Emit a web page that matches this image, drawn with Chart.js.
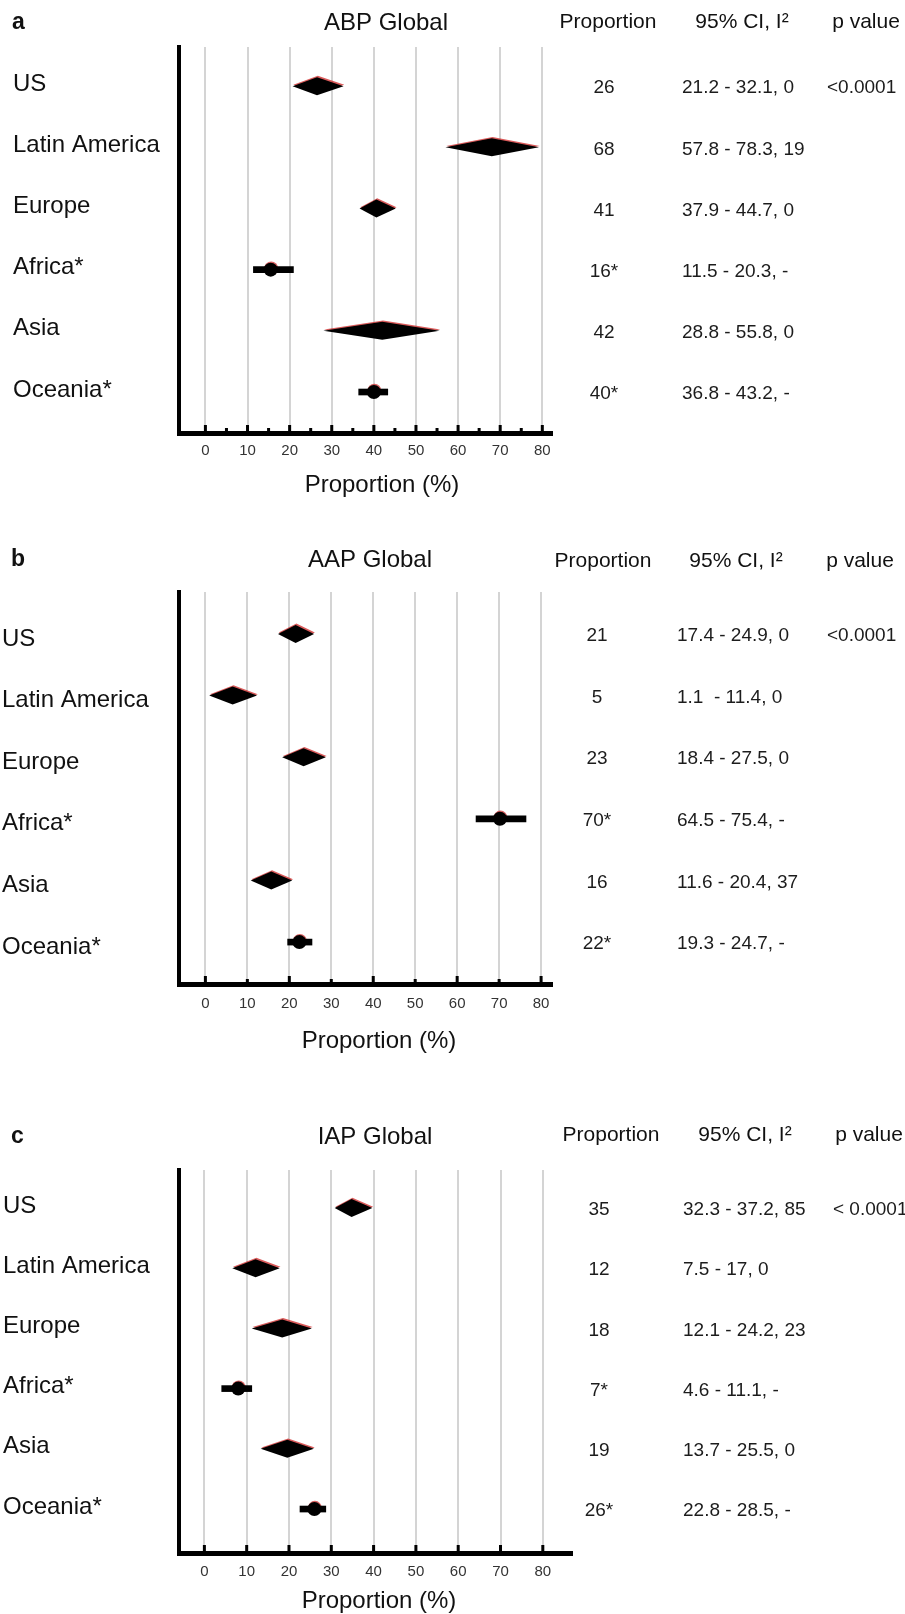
<!DOCTYPE html>
<html>
<head>
<meta charset="utf-8">
<script src="https://cdn.jsdelivr.net/npm/chart.js@4.4.1/dist/chart.umd.min.js"></script>
<style>
  html, body { margin: 0; padding: 0; background: #fff; }
  body { width: 905px; height: 1614px; position: relative; overflow: hidden; }
  canvas { position: absolute; left: 0; display: block; }
</style>
</head>
<body>
<canvas id="chartA" width="905" height="520" style="top:0"></canvas>
<canvas id="chartB" width="905" height="540" style="top:530px"></canvas>
<canvas id="chartC" width="905" height="524" style="top:1090px"></canvas>
<script>
// same rows in the three panels
const regions = ['US', 'Latin America', 'Europe', 'Africa*', 'Asia', 'Oceania*'];
const singleStudy = [false, false, false, true, false, true];   // * = one study -> dot + bar
const xTicks = [0, 10, 20, 30, 40, 50, 60, 70, 80];
const tableHeader = ['Proportion', '95% CI, I²', 'p value'];
const axisTitle = 'Proportion (%)';

// a - ABP
const abpEst  = [26.5, 68, 40.6, 15.5, 42, 40];
const abpLow  = [20.7, 57, 36.6, 11.4, 28, 36.4];
const abpHigh = [32.8, 79.2, 45.2, 20.9, 55.6, 43.3];
const abpProp = ['26', '68', '41', '16*', '42', '40*'];
const abpCI   = ['21.2 - 32.1, 0', '57.8 - 78.3, 19', '37.9 - 44.7, 0', '11.5 - 20.3, -', '28.8 - 55.8, 0', '36.8 - 43.2, -'];
const abpP    = '<0.0001';

// b - AAP
const aapEst  = [21.5, 6.5, 23.4, 70.2, 15.7, 22.4];
const aapLow  = [17.3, 0.9, 18.3, 64.5, 10.8, 19.6];
const aapHigh = [25.9, 12.3, 28.7, 76.4, 20.7, 25.4];
const aapProp = ['21', '5', '23', '70*', '16', '22*'];
const aapCI   = ['17.4 - 24.9, 0', '1.1  - 11.4, 0', '18.4 - 27.5, 0', '64.5 - 75.4, -', '11.6 - 20.4, 37', '19.3 - 24.7, -'];
const aapP    = '<0.0001';

// c - IAP
const iapEst  = [34.8, 12.1, 18.4, 8, 19.6, 26];
const iapLow  = [30.8, 6.6, 11.2, 4.1, 13.3, 22.6];
const iapHigh = [39.7, 17.8, 25.4, 11.2, 25.9, 28.7];
const iapProp = ['35', '12', '18', '7*', '19', '26*'];
const iapCI   = ['32.3 - 37.2, 85', '7.5 - 17, 0', '12.1 - 24.2, 23', '4.6 - 11.1, -', '13.7 - 25.5, 0', '22.8 - 28.5, -'];
const iapP    = '< 0.0001';

const fam = "'Liberation Sans', Arial, sans-serif";
Chart.defaults.font.family = fam;
Chart.defaults.color = '#151515';

function forestPlugin(p) {
  return {
    id: 'forest',
    beforeDatasetsDraw(chart) {
      const ctx = chart.ctx, xs = chart.scales.x, ys = chart.scales.y;
      const bottom = chart.chartArea.bottom;
      ctx.save();
      // small tick marks sitting on the x axis line
      ctx.fillStyle = '#000';
      xTicks.forEach((v, k) => {
        const h = (p.halfTicks && k % 2 == 1) ? 5 : 8;
        ctx.fillRect(xs.getPixelForValue(v) - 1.5, bottom - h, 3, h);
      });
      if (p.minor) {
        xTicks.slice(0, -1).forEach(v => {
          ctx.fillRect(xs.getPixelForValue(v + 5) - 1.5, bottom - 5, 3, 5);
        });
      }
      // reddish shadow behind the dots
      ctx.fillStyle = 'rgba(200,30,30,0.7)';
      regions.forEach((r, i) => {
        if (!singleStudy[i]) return;
        ctx.beginPath();
        ctx.arc(xs.getPixelForValue(p.est[i]) + 0.5, ys.getPixelForValue(i) - 1.2, 7, 0, Math.PI * 2);
        ctx.fill();
      });
      ctx.restore();
    },
    afterDatasetsDraw(chart) {
      const ctx = chart.ctx, xs = chart.scales.x, ys = chart.scales.y;
      ctx.save();
      regions.forEach((r, i) => {
        if (singleStudy[i]) return;
        const xl = xs.getPixelForValue(p.low[i]);
        const xc = xs.getPixelForValue(p.est[i]);
        const xr = xs.getPixelForValue(p.high[i]);
        const yc = ys.getPixelForValue(i);
        const h = 9;
        [['rgba(205,35,35,0.75)', 0.8, -1.3], ['#000', 0, 0]].forEach(([col, dx, dy]) => {
          ctx.fillStyle = col;
          ctx.beginPath();
          ctx.moveTo(xl + dx, yc + dy);
          ctx.lineTo(xc + dx, yc - h + dy);
          ctx.lineTo(xr + dx, yc + dy);
          ctx.lineTo(xc + dx, yc + h + dy);
          ctx.closePath();
          ctx.fill();
        });
      });
      ctx.restore();
    },
    afterDraw(chart) {
      const ctx = chart.ctx, ys = chart.scales.y;
      ctx.save();
      ctx.textBaseline = 'middle';
      ctx.fillStyle = '#111';
      ctx.textAlign = 'left';
      ctx.font = 'bold 23px ' + fam;
      ctx.fillText(p.letter, p.letterX, p.titleY);
      ctx.textAlign = 'center';
      ctx.font = '24px ' + fam;
      ctx.fillText(p.title, p.titleX, p.titleY);
      ctx.font = '21px ' + fam;
      tableHeader.forEach((h, k) => ctx.fillText(h, p.headX[k], p.headY));
      ctx.font = '19px ' + fam;
      ctx.fillStyle = '#1c1c1c';
      regions.forEach((r, i) => {
        const y = ys.getPixelForValue(i) + 2;
        ctx.textAlign = 'center';
        ctx.fillText(p.prop[i], p.propX, y);
        ctx.textAlign = 'left';
        ctx.fillText(p.ci[i], p.ciX, y);
      });
      ctx.textAlign = 'left';
      ctx.fillText(p.p, p.pX, ys.getPixelForValue(0) + 2);
      ctx.textAlign = 'center';
      ctx.fillStyle = '#111';
      ctx.font = '24px ' + fam;
      ctx.fillText(axisTitle, p.axisTitleX, p.axisTitleY);
      ctx.restore();
    }
  };
}

function buildPanel(p) {
  const rows = regions.map((r, i) => i);
  const barData = [];
  const dotData = [];
  rows.forEach(i => {
    if (singleStudy[i]) {
      barData.push({ x: [p.low[i], p.high[i]], y: i });
      dotData.push({ x: p.est[i], y: i });
    }
  });
  return new Chart(document.getElementById(p.canvas), {
    type: 'scatter',
    data: {
      datasets: [
        { type: 'bar', indexAxis: 'y', data: barData, backgroundColor: '#000', barThickness: 6, borderWidth: 0 },
        { type: 'scatter', data: dotData, pointRadius: 7, pointBackgroundColor: '#000', pointBorderWidth: 0 }
      ]
    },
    options: {
      responsive: false,
      animation: false,
      events: [],
      layout: { padding: p.pad },
      plugins: { legend: { display: false }, tooltip: { enabled: false } },
      scales: {
        x: {
          type: 'linear', min: p.xMin, max: p.xMax, offset: false,
          afterBuildTicks: ax => { ax.ticks = xTicks.map(v => ({ value: v })); },
          afterFit: ax => { ax.height = 40; },
          ticks: { font: { size: 15 }, color: '#333', padding: p.tickPad, maxRotation: 0, autoSkip: false, callback: v => v },
          grid: { color: '#d4d4d4', lineWidth: 2, drawTicks: false, offset: false },
          border: { color: '#000', width: 5 }
        },
        y: {
          type: 'linear', reverse: true, min: p.yMin, max: p.yMax, offset: false,
          afterBuildTicks: ax => { ax.ticks = rows.map(v => ({ value: v })); },
          afterFit: ax => { ax.width = p.yAxisWidth; },
          ticks: { font: { size: 24 }, color: '#111', crossAlign: 'far', labelOffset: p.labelOffset, autoSkip: false, callback: v => regions[v] },
          grid: { drawOnChartArea: false, drawTicks: false, offset: false },
          border: { color: '#000', width: 4 }
        }
      }
    },
    plugins: [forestPlugin(p)]
  });
}

buildPanel({
  canvas: 'chartA', letter: 'a', title: 'ABP Global',
  est: abpEst, low: abpLow, high: abpHigh, prop: abpProp, ci: abpCI, p: abpP,
  pad: { top: 47, right: 353, bottom: 47, left: 13 }, yAxisWidth: 166,
  xMin: -6.27, xMax: 82.3, yMin: -0.64, yMax: 5.67,
  labelOffset: -2, tickPad: 9, minor: true, halfTicks: false,
  letterX: 12, titleX: 386, titleY: 23, headY: 22, headX: [608, 742, 866],
  propX: 604, ciX: 682, pX: 827, axisTitleX: 382, axisTitleY: 485
});

buildPanel({
  canvas: 'chartB', letter: 'b', title: 'AAP Global',
  est: aapEst, low: aapLow, high: aapHigh, prop: aapProp, ci: aapCI, p: aapP,
  pad: { top: 62, right: 353, bottom: 46, left: 2 }, yAxisWidth: 177,
  xMin: -6.29, xMax: 82.6, yMin: -0.68, yMax: 5.68,
  labelOffset: 5, tickPad: 11, minor: false, halfTicks: true,
  letterX: 11, titleX: 370, titleY: 30, headY: 31, headX: [603, 736, 860],
  propX: 597, ciX: 677, pX: 827, axisTitleX: 379, axisTitleY: 511
});

buildPanel({
  canvas: 'chartC', letter: 'c', title: 'IAP Global',
  est: iapEst, low: iapLow, high: iapHigh, prop: iapProp, ci: iapCI, p: iapP,
  pad: { top: 80, right: 333, bottom: 21, left: 3 }, yAxisWidth: 176,
  xMin: -6.0, xMax: 86.9, yMin: -0.63, yMax: 5.73,
  labelOffset: -2, tickPad: 10, minor: false, halfTicks: false,
  letterX: 11, titleX: 375, titleY: 47, headY: 45, headX: [611, 745, 869],
  propX: 599, ciX: 683, pX: 833, axisTitleX: 379, axisTitleY: 511
});
</script>
</body>
</html>
